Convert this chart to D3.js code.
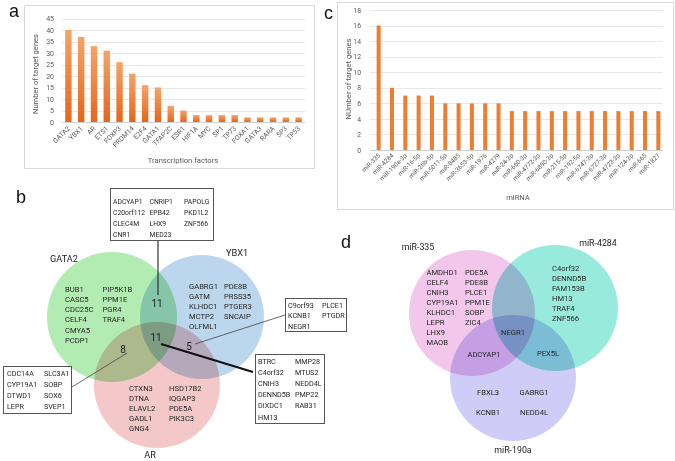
<!DOCTYPE html>
<html><head><meta charset="utf-8">
<script src="https://cdn.jsdelivr.net/npm/d3@7"></script>
<style>
html,body{margin:0;padding:0;background:#fff;}
svg{display:block;font-family:Roboto,'Liberation Sans',sans-serif;}
</style></head><body>
<svg id="fig" width="675" height="461"></svg>
<script>
// ---------- DATA ----------
const tfCategories = ["GATA2","YBX1","AR","ETS1","FOXP3","PRDM14","E2F4","GATA1","TFAP2C","ESR1","HIF1A","MYC","SP1","TP73","FOXA1","GATA3","RARA","SP3","TP53"];
const tfValues = [40,37,33,31,26,21,16,15,7,5,3,3,3,3,2,2,2,2,2];
const tfTicks = [0,5,10,15,20,25,30,35,40,45];

const mirCategories = ["miR-335","miR-4284","miR-190a-3p","miR-16-5p","miR-26b-5p","miR-5011-5p","miR-8485","miR-3653-5p","miR-1976","miR-4279","miR-24-3p","miR-660-3p","miR-4772-3p","miR-6890-3p","miR-215-5p","miR-192-5p","miR-6747-3p","miR-6727-3p","miR-4723-3p","miR-124-3p","miR-665","miR-1827"];
const mirValues = [16,8,7,7,7,6,6,6,6,6,5,5,5,5,5,5,5,5,5,5,5,5];
const mirTicks = [0,2,4,6,8,10,12,14,16,18];

// Venn b
const vennBSets = ["GATA2","YBX1","AR"];
const gata2Only = [["BUB1","CASC5","CDC25C","CELF4","CMYA5","PCDP1"],["PIP5K1B","PPM1E","PGR4","TRAF4"]];
const ybx1Only = [["GABRG1","GATM","KLHDC1","MCTP2","OLFML1"],["PDE8B","PRSS35","PTGER3","SNCAIP"]];
const arOnly = [["CTXN3","DTNA","ELAVL2","GADL1","GNG4"],["HSD17B2","IQGAP3","PDE5A","PIK3C3"]];
const gata2Ybx1 = [["ADCYAP1","C20orf112","CLEC4M","CNR1"],["CNRIP1","EPB42","LHX9","MED23"],["PAPOLG","PKD1L2","ZNF566"]];
const ybx1Ar = [["C9orf93","KCNB1","NEGR1"],["PLCE1","PTGDR"]];
const allThree = [["BTRC","C4orf32","CNIH3","DENND5B","DIXDC1","HM13"],["MMP28","MTUS2","NEDD4L","PMP22","RAB31"]];
const gata2Ar = [["CDC14A","CYP19A1","DTWD1","LEPR"],["SLC3A1","SOBP","SOX6","SVEP1"]];
const vennBCounts = ["11","11","8","5"];

// Venn d
const vennDSets = ["miR-335","miR-4284","miR-190a"];
const mir335Only = [["AMDHD1","CELF4","CNIH3","CYP19A1","KLHDC1","LEPR","LHX9","MAOB"],["PDE5A","PDE8B","PLCE1","PPM1E","SOBP","ZIC4"]];
const mir4284Only = ["C4orf32","DENND5B","FAM153B","HM13","TRAF4","ZNF566"];
const mirCenter = ["NEGR1"];
const mir335_190a = ["ADCYAP1"];
const mir4284_190a = ["PEX5L"];
const mir190aOnly = [["FBXL3","KCNB1"],["GABRG1","NEDD4L"]];

// ---------- DRAW ----------
const svg = d3.select("#fig");
const defs = svg.append("defs");
const grad = defs.append("linearGradient").attr("id","barGrad").attr("x1",0).attr("y1",0).attr("x2",0).attr("y2",1);
grad.append("stop").attr("offset","0%").attr("stop-color","#f4a468");
grad.append("stop").attr("offset","100%").attr("stop-color","#e5661a");

const tickCol = "#595959";

function barPanel(opt){
  const g = svg.append("g");
  g.append("rect").attr("x",opt.box[0]+0.5).attr("y",opt.box[1]+0.5)
    .attr("width",opt.box[2]-opt.box[0]).attr("height",opt.box[3]-opt.box[1])
    .attr("fill","#fff").attr("stroke","#d9d9d9");
  const x = d3.scaleBand().domain(opt.cats).range(opt.xr).paddingInner(opt.pi).paddingOuter(opt.po);
  const y = d3.scaleLinear().domain([0,opt.ticks[opt.ticks.length-1]]).range(opt.yr);
  g.selectAll("line.grid").data(opt.ticks).join("line")
    .attr("x1",opt.gx[0]).attr("x2",opt.gx[1])
    .attr("y1",d=>Math.round(y(d))+0.5).attr("y2",d=>Math.round(y(d))+0.5)
    .attr("stroke",d=>d===0?"#d0d0d0":"#e8e8e8").attr("stroke-width",1);
  const ax = g.append("g").attr("transform",`translate(${opt.gx[0]},0)`)
    .call(d3.axisLeft(y).tickValues(opt.ticks).tickSize(0).tickPadding(opt.tp));
  ax.select(".domain").remove();
  ax.selectAll("text").attr("fill",tickCol).style("font-size",opt.tfs+"px").style("font-family","Roboto,sans-serif");
  g.selectAll("rect.bar").data(opt.vals).join("rect")
    .attr("x",(d,i)=>x(opt.cats[i])).attr("width",x.bandwidth())
    .attr("y",d=>y(d)).attr("height",d=>y(0)-y(d))
    .attr("fill",opt.fill);
  g.selectAll("text.xl").data(opt.cats).join("text")
    .attr("transform",d=>`translate(${x(d)+x.bandwidth()/2+2},${opt.xly}) rotate(-45)`)
    .attr("text-anchor","end").attr("fill",tickCol).style("font-size",opt.xfs+"px").text(d=>d);
  g.append("text").attr("transform",`translate(${opt.yt[0]},${opt.yt[1]}) rotate(-90)`)
    .attr("text-anchor","middle").attr("fill",tickCol).style("font-size","7.6px").text(opt.ytitle);
  g.append("text").attr("x",opt.xt[0]).attr("y",opt.xt[1])
    .attr("text-anchor","middle").attr("fill",tickCol).style("font-size","7.6px").text(opt.xtitle);
}

barPanel({box:[24,5,314,168],cats:tfCategories,vals:tfValues,ticks:tfTicks,
  xr:[62,305],pi:0.5,po:0.25,yr:[122,18.5],gx:[62,305],tp:8,tfs:7,
  fill:"url(#barGrad)",xly:129,xfs:6.8,yt:[38,74],ytitle:"Number of target genes",
  xt:[183,163],xtitle:"Transcription factors"});

barPanel({box:[337,2,673,209],cats:mirCategories,vals:mirValues,ticks:mirTicks,
  xr:[372,665],pi:0.7,po:0.35,yr:[150,10],gx:[370,663],tp:9,tfs:6.8,
  fill:"#ed7d31",xly:156,xfs:6.3,yt:[351,79],ytitle:"NUmber of target genes",
  xt:[518,200],xtitle:"miRNA"});

// panel letters
[["a",9,17],["b",16,203],["c",324,19],["d",341,248]].forEach(p=>{
  svg.append("text").attr("x",p[1]).attr("y",p[2]).style("font-family","'Liberation Sans',Arial,sans-serif")
    .style("font-size","18px").attr("fill","#111").text(p[0]);
});

const geneCol = "#262626";
function geneCols(g, cols, xs, y0, dy, fs, anchor){
  cols.forEach((col,ci)=>{
    col.forEach((name,ri)=>{
      g.append("text").attr("x",xs[ci]).attr("y",y0+ri*dy).attr("dy","0.35em")
        .attr("text-anchor",anchor||"start")
        .style("font-size",fs+"px").attr("fill",geneCol).text(name);
    });
  });
}

// ---------- Venn b ----------
const vb = svg.append("g");
const circB = [
  {c:[112,317],r:65,fill:"#b3ecb3"},
  {c:[202,317],r:62,fill:"#bcd6ee"},
  {c:[157,385],r:63,fill:"#f4c8c8"}
];
vb.selectAll("circle").data(circB).join("circle")
  .attr("cx",d=>d.c[0]).attr("cy",d=>d.c[1]).attr("r",d=>d.r)
  .attr("fill",d=>d.fill).style("mix-blend-mode","multiply");

const setLabB = [[64,259],[237,253],[150,455]];
vennBSets.forEach((s,i)=>vb.append("text").attr("x",setLabB[i][0]).attr("y",setLabB[i][1]).attr("dy","0.35em")
  .attr("text-anchor","middle").style("font-size","9.2px").attr("fill","#222").text(s));

geneCols(vb, gata2Only, [65,102.5], 289.3, 10.15, 7.6);
geneCols(vb, ybx1Only, [189,224], 286, 10, 7.6);
geneCols(vb, arOnly, [129,169], 388, 10, 7.6);

const cntPos = [[157,303],[156,337],[123,349],[189,346]];
vennBCounts.forEach((c,i)=>vb.append("text").attr("x",cntPos[i][0]).attr("y",cntPos[i][1]).attr("dy","0.35em")
  .attr("text-anchor","middle").style("font-size","10px").attr("fill","#222").text(c));

// connector lines
vb.append("line").attr("x1",158).attr("y1",240).attr("x2",158).attr("y2",295).attr("stroke","#333").attr("stroke-width",1.2);
vb.append("line").attr("x1",195).attr("y1",344).attr("x2",285).attr("y2",315).attr("stroke","#444").attr("stroke-width",0.8);
vb.append("line").attr("x1",127).attr("y1",353).attr("x2",72).attr("y2",387).attr("stroke","#444").attr("stroke-width",0.8);
vb.append("line").attr("x1",161).attr("y1",344).attr("x2",253).attr("y2",372).attr("stroke","#111").attr("stroke-width",2.2);

function box(g, x0,y0,x1,y1){
  g.append("rect").attr("x",x0+0.5).attr("y",y0+0.5).attr("width",x1-x0).attr("height",y1-y0)
    .attr("fill","#fff").attr("stroke","#555").attr("stroke-width",1);
}
box(vb,110,188,213,240);
geneCols(vb, gata2Ybx1, [113,149.5,184], 201.8, 11.1, 6.8);
box(vb,285,298,346,331);
geneCols(vb, ybx1Ar, [288,322], 305.2, 10.5, 7.2);
box(vb,255,354,324,423);
geneCols(vb, allThree, [258,295], 361, 11.2, 7.2);
box(vb,3,366,71,413);
geneCols(vb, gata2Ar, [7,44], 373.3, 11.1, 7.2);

// ---------- Venn d ----------
const vd = svg.append("g");
const circD = [
  {c:[472,313],r:63,fill:"#f3c6ec"},
  {c:[555,308],r:63,fill:"#98ebdc"},
  {c:[513,378],r:63,fill:"#cfcdf7"}
];
vd.selectAll("circle").data(circD).join("circle")
  .attr("cx",d=>d.c[0]).attr("cy",d=>d.c[1]).attr("r",d=>d.r)
  .attr("fill",d=>d.fill).style("mix-blend-mode","multiply");
const setLabD = [[418,247],[598,243],[513,450]];
vennDSets.forEach((s,i)=>vd.append("text").attr("x",setLabD[i][0]).attr("y",setLabD[i][1]).attr("dy","0.35em")
  .attr("text-anchor","middle").style("font-size","8.8px").attr("fill","#222").text(s));

geneCols(vd, mir335Only, [426.5,465], 272.3, 10, 7.6);
geneCols(vd, [mir4284Only], [552], 268.3, 10, 7.6);
geneCols(vd, [mirCenter], [513], 332, 10, 7.6, "middle");
geneCols(vd, [mir335_190a], [484], 354, 10, 7.6, "middle");
geneCols(vd, [mir4284_190a], [548], 353, 10, 7.6, "middle");
geneCols(vd, mir190aOnly, [488,534], 392, 20, 7.6, "middle");
</script>
</body></html>
